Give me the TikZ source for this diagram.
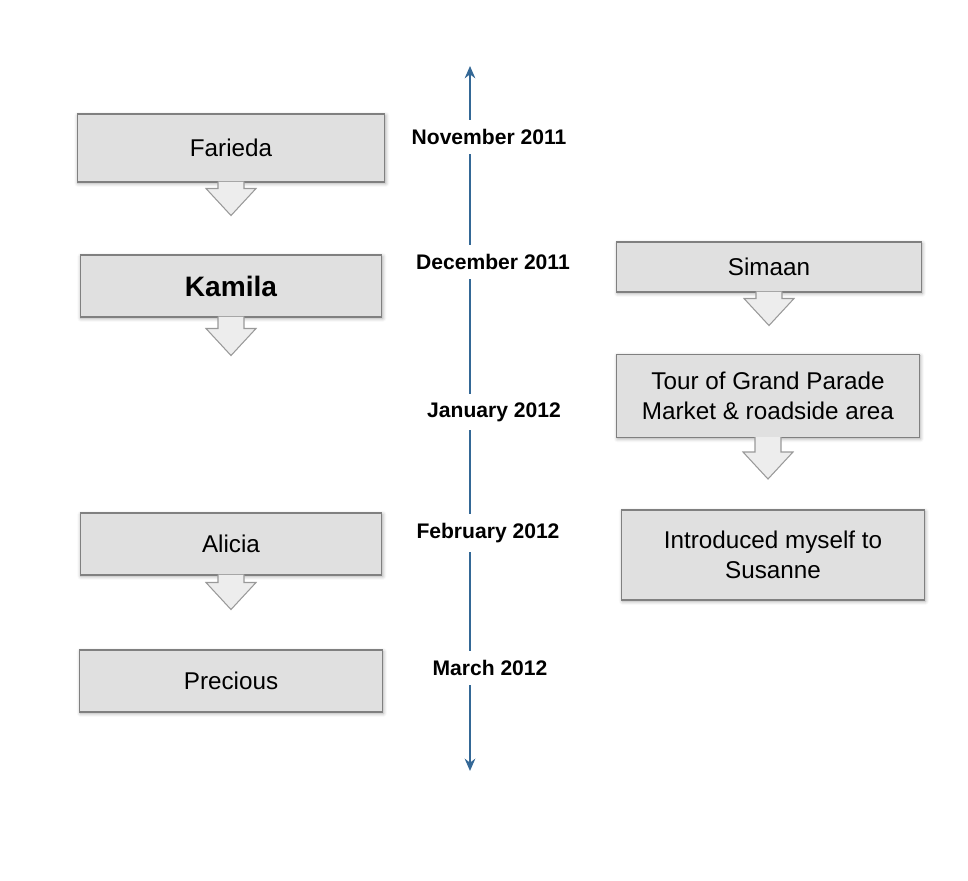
\documentclass[tikz,border=0pt]{standalone}
\usepackage{fontspec}
\setmainfont{Liberation Sans}
\usetikzlibrary{calc,arrows.meta,shadows.blur}
\definecolor{tlblue}{RGB}{52,104,150}
\def\blockarrow(#1)(#2){\draw[block] ($(#1.south)+(-13,-1)$) -- ++(0,#2+1) -- ++(-12,0) -- ($(#1.south)+(0,#2+27)$) -- ($(#1.south)+(25,#2)$) -- ++(-12,0) -- ($(#1.south)+(13,-1)$);}
\tikzset{
	box/.style={draw=black!50, fill=black!12, line width=0.6pt, align=center, inner sep=2pt,
		blur shadow={shadow xshift=0.5pt, shadow yshift=-0.8pt, shadow opacity=35, shadow blur radius=2pt},
		font=\fontsize{13.8}{17}\selectfont},
	month/.style={fill=white, inner xsep=2pt, inner ysep=5pt, font=\bfseries\fontsize{12}{14}\selectfont},
	timeline/.style={draw=tlblue, line width=1.5pt, {Stealth[length=7pt,width=6pt]}-{Stealth[length=7pt,width=6pt]}},
	block/.style={draw=black!40, fill=black!7, line width=0.6pt},
}

\begin{document}
\begin{tikzpicture}[x=0.02cm, y=-0.02cm]
			%%%%% START %%%%%
			\useasboundingbox (0,0) rectangle (968,881);
			
			% time line
			\coordinate (top) at (470,66);
			\coordinate (bottom) at (470,771);
			\draw[timeline] (bottom) -- (top);
			
			\node[month] (nov) at (489,137) {November 2011};
			\node[month] (dec) at (493,262) {December 2011};
			\node[month] (jan) at (494,412) {January 2012};
			\node[month] (feb) at (488,533) {February 2012};
			\node[month] (mar) at (490,668) {March 2012};
			
			% left column
			\node[box, minimum width=6.16cm, minimum height=1.36cm] (farieda) at (231,148) {Farieda};
			\node[box, minimum width=6.04cm, minimum height=1.24cm, font=\bfseries\fontsize{16}{19}\selectfont] (kamila) at (231,286) {Kamila};
			\node[box, minimum width=6.04cm, minimum height=1.24cm] (alicia) at (231,544) {Alicia};
			\node[box, minimum width=6.06cm, minimum height=1.24cm] (precious) at (231,681) {Precious};
			
			% right column
			\node[box, minimum width=6.1cm, minimum height=1.0cm] (simaan) at (769,267) {Simaan};
			\node[box, minimum width=6.06cm, minimum height=1.66cm] (tour) at (768,396) {Tour of Grand Parade\\Market \& roadside area};
			\node[box, minimum width=6.06cm, minimum height=1.8cm] (susanne) at (773,555) {Introduced myself to\\Susanne};
			
			\blockarrow(farieda)(6)
			\blockarrow(kamila)(11)
			\blockarrow(alicia)(7)
			\blockarrow(simaan)(6)
			\blockarrow(tour)(14)
			
			%%%%% END %%%%%
\end{tikzpicture}
\end{document}
